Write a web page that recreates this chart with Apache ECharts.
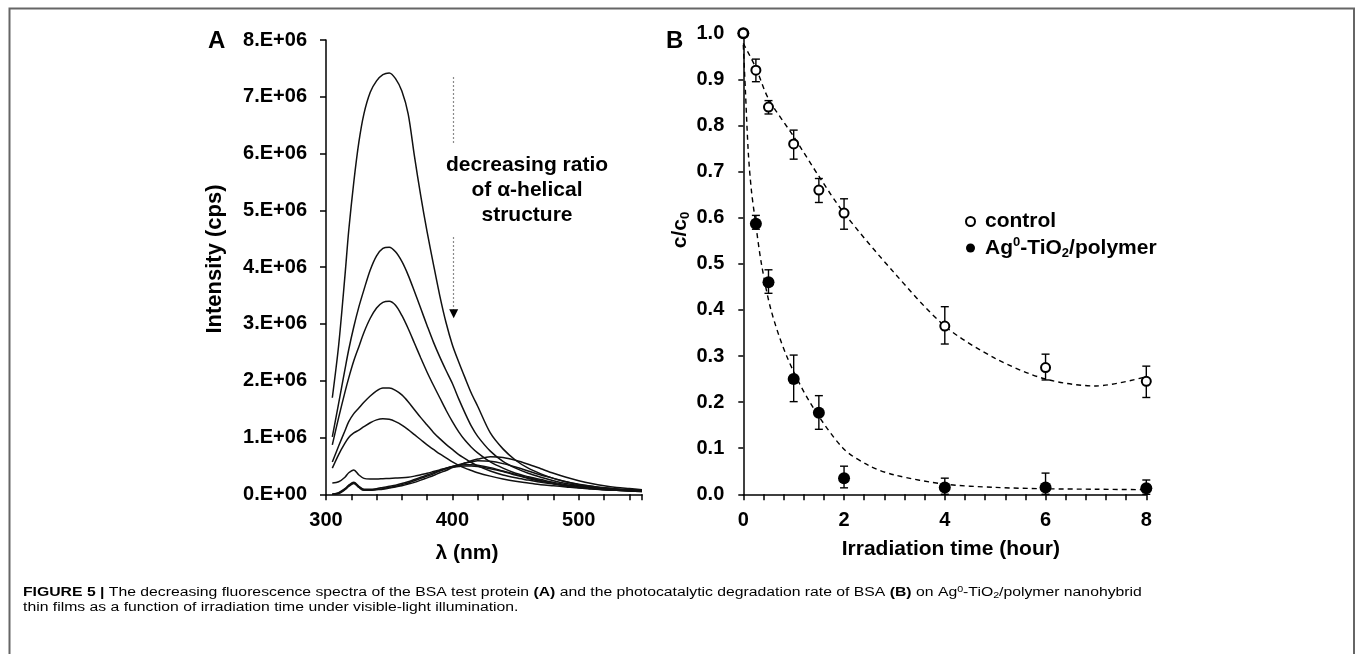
<!DOCTYPE html>
<html><head><meta charset="utf-8">
<script src="https://cdn.jsdelivr.net/npm/echarts@6/dist/echarts.min.js"></script>
<style>html,body{margin:0;padding:0;background:#fff}#c{width:1357px;height:654px}</style>
</head><body><div id="c"></div>
<script>
// ---------- Panel A: fluorescence spectra (intensity in units of 1E+06 cps) ----------
const wavelength = [305,310,315,318,322,326,330,335,340,345,350,355,360,365,370,375,380,385,390,395,400,405,410,415,420,430,440,450,460,470,480,490,500,510,520,530,540,550];
const spectrum1 = [1.70,2.62,3.85,4.65,5.5,6.2,6.7,7.08,7.28,7.39,7.42,7.32,7.1,6.7,5.95,5.25,4.62,4.05,3.5,3.02,2.63,2.33,2.05,1.78,1.55,1.08,0.8,0.6,0.46,0.36,0.28,0.22,0.175,0.14,0.115,0.095,0.08,0.07];
const spectrum2 = [1.01,1.6,2.2,2.55,2.95,3.3,3.6,3.95,4.2,4.33,4.35,4.27,4.1,3.86,3.57,3.27,2.97,2.68,2.42,2.18,1.95,1.68,1.43,1.2,1.02,0.76,0.58,0.46,0.37,0.3,0.24,0.19,0.155,0.13,0.11,0.09,0.08,0.07];
const spectrum3 = [0.87,1.35,1.8,2.05,2.35,2.6,2.85,3.1,3.28,3.38,3.40,3.33,3.15,2.92,2.66,2.4,2.15,1.92,1.7,1.48,1.28,1.1,0.95,0.83,0.73,0.57,0.46,0.37,0.31,0.26,0.21,0.17,0.145,0.12,0.1,0.085,0.075,0.065];
const spectrum4 = [0.57,0.85,1.12,1.28,1.42,1.52,1.62,1.73,1.82,1.87,1.87,1.83,1.75,1.63,1.49,1.35,1.22,1.09,0.98,0.88,0.79,0.7,0.63,0.56,0.5,0.41,0.34,0.29,0.25,0.21,0.18,0.15,0.13,0.11,0.095,0.08,0.07,0.06];
const spectrum5 = [0.46,0.7,0.9,1.0,1.08,1.13,1.19,1.26,1.31,1.33,1.32,1.28,1.22,1.14,1.05,0.96,0.87,0.79,0.71,0.64,0.57,0.51,0.46,0.42,0.38,0.32,0.27,0.23,0.2,0.17,0.15,0.13,0.11,0.095,0.08,0.07,0.06,0.055];
const spectrum6 = [0.2,0.22,0.3,0.38,0.43,0.34,0.28,0.27,0.27,0.275,0.28,0.285,0.29,0.3,0.32,0.345,0.37,0.4,0.43,0.46,0.48,0.49,0.5,0.5,0.49,0.45,0.4,0.34,0.28,0.23,0.19,0.15,0.12,0.1,0.085,0.07,0.06,0.05];
const spectrum7 = [0.0,0.03,0.1,0.16,0.21,0.14,0.09,0.09,0.1,0.12,0.14,0.16,0.19,0.22,0.26,0.3,0.34,0.38,0.42,0.46,0.49,0.51,0.52,0.52,0.51,0.47,0.41,0.35,0.29,0.24,0.19,0.15,0.12,0.1,0.08,0.07,0.06,0.05];
const spectrum8 = [0.0,0.02,0.09,0.15,0.2,0.13,0.08,0.08,0.09,0.1,0.12,0.14,0.17,0.2,0.24,0.28,0.32,0.36,0.41,0.45,0.49,0.52,0.55,0.57,0.59,0.58,0.54,0.48,0.41,0.34,0.28,0.22,0.17,0.14,0.11,0.09,0.075,0.06];
const spectrum9 = [0.0,0.01,0.08,0.14,0.19,0.12,0.07,0.07,0.08,0.09,0.11,0.13,0.15,0.18,0.21,0.25,0.29,0.33,0.38,0.42,0.47,0.51,0.55,0.59,0.62,0.66,0.65,0.6,0.53,0.45,0.37,0.3,0.24,0.19,0.15,0.12,0.1,0.08];
const spectra = [spectrum1,spectrum2,spectrum3,spectrum4,spectrum5,spectrum6,spectrum7,spectrum8,spectrum9];

// ---------- Panel B: degradation c/c0 ----------
const timeH      = [0, 0.25, 0.5, 1, 1.5, 2, 4, 6, 8];
const control    = [1.0, 0.92, 0.84, 0.76, 0.66, 0.61, 0.365, 0.275, 0.245];
const controlHi  = [1.0, 0.944, 0.854, 0.79, 0.685, 0.641, 0.407, 0.304, 0.278];
const controlLo  = [1.0, 0.895, 0.825, 0.727, 0.633, 0.575, 0.326, 0.248, 0.21];
const agTiO2     = [1.0, 0.587, 0.46, 0.25, 0.177, 0.035, 0.015, 0.015, 0.013];
const agTiO2Hi   = [1.0, 0.605, 0.487, 0.302, 0.214, 0.061, 0.035, 0.046, 0.031];
const agTiO2Lo   = [1.0, 0.575, 0.436, 0.201, 0.141, 0.014, 0.0, 0.0, 0.0];
const controlFitT = [0, 0.25, 0.5, 1, 1.5, 2, 3, 4, 5, 6, 7, 8];
const controlFit  = [0.978, 0.925, 0.858, 0.776, 0.69, 0.61, 0.48, 0.365, 0.295, 0.25, 0.235, 0.255];
const agFitT = [0, 0.04, 0.1, 0.16, 0.23, 0.36, 0.55, 0.86, 1.32, 1.98, 2.5, 3, 4, 5, 6, 7, 8];
const agFit  = [0.975, 0.88, 0.74, 0.66, 0.6, 0.5, 0.4, 0.3, 0.2, 0.1, 0.062, 0.042, 0.022, 0.015, 0.012, 0.011, 0.01];

const aYTicks = ['0.E+00','1.E+06','2.E+06','3.E+06','4.E+06','5.E+06','6.E+06','7.E+06','8.E+06'];
const aXTicks = [300, 400, 500];
const bXTicks = [0, 2, 4, 6, 8];

const FONT = 'Liberation Sans, Arial, sans-serif';
const AX = {color:'#000', width:1.5};
const lbl = {color:'#000', fontSize:20, fontWeight:'bold', fontFamily:FONT};
const nameStyle = {color:'#000', fontSize:21, fontWeight:'bold', fontFamily:FONT};

const chart = echarts.init(document.getElementById('c'), null, {renderer:'canvas'});

const series = [];
spectra.forEach((s, k) => {
  const ser = {
    type:'line', xAxisIndex:0, yAxisIndex:0, symbol:'none', smooth:0.3,
    lineStyle:{color:'#111', width:1.5}, data: wavelength.map((w,i)=>[w, s[i]]), z:2
  };
  if (k === 0) {
    ser.markLine = {
      silent:true, symbol:['none','none'], label:{show:false},
      lineStyle:{color:'#8a8a8a', width:1.2, type:[2,2]},
      data:[[{coord:[401,7.35]},{coord:[401,6.15]}],[{coord:[401,4.53]},{coord:[401,3.22]}]]
    };
    ser.markPoint = {
      silent:true, symbol:'triangle', symbolSize:[9,9], symbolRotate:180, label:{show:false},
      itemStyle:{color:'#000'}, data:[{coord:[401,3.18]}]
    };
  }
  series.push(ser);
});

series.push({
  type:'line', xAxisIndex:1, yAxisIndex:1, symbol:'none', smooth:0.3, silent:true,
  lineStyle:{color:'#000', width:1.4, type:[5,4]}, data: controlFitT.map((t,i)=>[t, controlFit[i]]), z:2
});
series.push({
  type:'line', xAxisIndex:1, yAxisIndex:1, symbol:'none', smooth:0.3, silent:true,
  lineStyle:{color:'#000', width:1.4, type:[5,4]}, data: agFitT.map((t,i)=>[t, agFit[i]]), z:2
});
function errRender(params, api) {
  const x = api.value(0), lo = api.value(1), hi = api.value(2);
  if (hi === lo) return null;
  const p1 = api.coord([x, lo]), p2 = api.coord([x, hi]);
  const w = 4, st = {stroke:'#000', lineWidth:1.4};
  return {type:'group', children:[
    {type:'line', shape:{x1:p1[0], y1:p1[1], x2:p2[0], y2:p2[1]}, style:st},
    {type:'line', shape:{x1:p2[0]-w, y1:p2[1], x2:p2[0]+w, y2:p2[1]}, style:st},
    {type:'line', shape:{x1:p1[0]-w, y1:p1[1], x2:p1[0]+w, y2:p1[1]}, style:st}
  ]};
}
series.push({type:'custom', xAxisIndex:1, yAxisIndex:1, renderItem:errRender, encode:{x:0, y:[1,2]}, silent:true,
  data: timeH.map((t,i)=>[t, agTiO2Lo[i], agTiO2Hi[i]]), z:3});
series.push({type:'custom', xAxisIndex:1, yAxisIndex:1, renderItem:errRender, encode:{x:0, y:[1,2]}, silent:true,
  data: timeH.map((t,i)=>[t, controlLo[i], controlHi[i]]), z:3});
series.push({
  name:'Ag0-TiO2/polymer', type:'scatter', xAxisIndex:1, yAxisIndex:1, symbol:'circle', symbolSize:12,
  itemStyle:{color:'#000', opacity:1}, data: timeH.map((t,i)=>[t, agTiO2[i]]), z:4, clip:false
});
series.push({
  name:'control', type:'scatter', xAxisIndex:1, yAxisIndex:1, symbol:'circle', symbolSize:9,
  itemStyle:{color:'#fff', borderColor:'#000', borderWidth:2, opacity:1}, data: timeH.map((t,i)=>[t, control[i]]), z:5, clip:false
});

const richSmall = {
  t:{fontSize:21, fontWeight:'bold', fontFamily:FONT, color:'#000', lineHeight:24},
  sup:{fontSize:13, fontWeight:'bold', fontFamily:FONT, color:'#000', lineHeight:13, verticalAlign:'top'},
  sub:{fontSize:13, fontWeight:'bold', fontFamily:FONT, color:'#000', lineHeight:13, verticalAlign:'bottom'}
};
const capRich = {
  b:{fontSize:12.5, fontWeight:'bold', fontFamily:FONT, color:'#222', lineHeight:15},
  n:{fontSize:12.5, fontFamily:FONT, color:'#222', lineHeight:15},
  sup:{fontSize:8.5, fontFamily:FONT, color:'#222', lineHeight:15, verticalAlign:'top'},
  sub:{fontSize:8.5, fontFamily:FONT, color:'#222', lineHeight:8, verticalAlign:'bottom'}
};

const option = {
  animation:false,
  backgroundColor:'#fff',
  grid:[
    {left:326, top:40, width:316, height:454.3},
    {left:743.3, top:33.3, width:403, height:461}
  ],
  xAxis:[
    {gridIndex:0, type:'value', min:300, max:550, interval:20,
     axisLine:{lineStyle:AX}, axisTick:{length:6, lineStyle:AX}, splitLine:{show:false},
     axisLabel:Object.assign({margin:16, formatter:v=> aXTicks.includes(v) ? String(v) : ''}, lbl),
     name:'λ (nm)', nameLocation:'middle', nameGap:48, nameTextStyle:Object.assign({padding:[0,34,0,0]}, nameStyle)},
    {gridIndex:1, type:'value', min:0, max:8, interval:0.4,
     axisLine:{lineStyle:AX}, axisTick:{length:6, lineStyle:AX}, splitLine:{show:false},
     axisLabel:Object.assign({margin:16, formatter:v=>{const r=Math.round(v); return (Math.abs(v-r)<1e-6 && bXTicks.includes(r)) ? String(r) : '';}}, lbl),
     name:'Irradiation time (hour)', nameLocation:'middle', nameGap:44, nameTextStyle:Object.assign({padding:[0,0,0,12]}, nameStyle)}
  ],
  yAxis:[
    {gridIndex:0, type:'value', min:0, max:8, interval:1,
     axisLine:{show:true, lineStyle:AX}, axisTick:{show:true, length:6, lineStyle:AX}, splitLine:{show:false},
     axisLabel:Object.assign({margin:19, formatter:v=> aYTicks[Math.round(v)]}, lbl)},
    {gridIndex:1, type:'value', min:0, max:1, interval:0.1,
     axisLine:{show:true, lineStyle:AX}, axisTick:{show:true, length:5, lineStyle:AX}, splitLine:{show:false},
     axisLabel:Object.assign({margin:19, formatter:v=> v.toFixed(1)}, lbl)}
  ],
  legend:{
    orient:'vertical', left:960, top:206, itemWidth:9, itemHeight:9, itemGap:4, selectedMode:false,
    data:[
      {name:'control', icon:'circle', itemStyle:{color:'#fff', borderColor:'#000', borderWidth:2}},
      {name:'Ag0-TiO2/polymer', icon:'circle', itemStyle:{color:'#000', borderWidth:0}}
    ],
    formatter: n => n === 'control' ? '{t|control}' : '{t|Ag}{sup|0}{t|-TiO}{sub|2}{t|/polymer}',
    textStyle:{padding:[0,0,0,5], rich:richSmall}
  },
  graphic:[
    {type:'rect', shape:{x:9.5, y:8.5, width:1344.5, height:700}, style:{fill:'none', stroke:'#666', lineWidth:2}, silent:true, z:100},
    {type:'text', left:208, top:29, style:{text:'A', fontSize:24, fontWeight:'bold', fontFamily:FONT, fill:'#000'}},
    {type:'text', left:666, top:29, style:{text:'B', fontSize:24, fontWeight:'bold', fontFamily:FONT, fill:'#000'}},
    {type:'text', x:527, y:190, style:{text:'decreasing ratio\nof α-helical\nstructure', fontSize:21, fontWeight:'bold', fontFamily:FONT, fill:'#000', align:'center', verticalAlign:'middle', lineHeight:25}},
    {type:'text', x:215, y:259, rotation:Math.PI/2, style:{text:'Intensity (cps)', fontSize:22, fontWeight:'bold', fontFamily:FONT, fill:'#000', align:'center', verticalAlign:'middle'}},
    {type:'text', x:680, y:230, rotation:Math.PI/2, style:{text:'{t|c/c}{sub|0}', align:'center', verticalAlign:'middle', rich:richSmall}},
    {type:'text', x:23, y:585, scaleX:1.26, style:{
      text:'{b|FIGURE 5 | }{n|The decreasing fluorescence spectra of the BSA test protein }{b|(A)}{n| and the photocatalytic degradation rate of BSA }{b|(B)}{n| on Ag}{sup|0}{n|-TiO}{sub|2}{n|/polymer nanohybrid}\n{n|thin films as a function of irradiation time under visible-light illumination.}',
      rich:capRich, align:'left', verticalAlign:'top'}}
  ],
  series
};
chart.setOption(option);
</script>
</body></html>
